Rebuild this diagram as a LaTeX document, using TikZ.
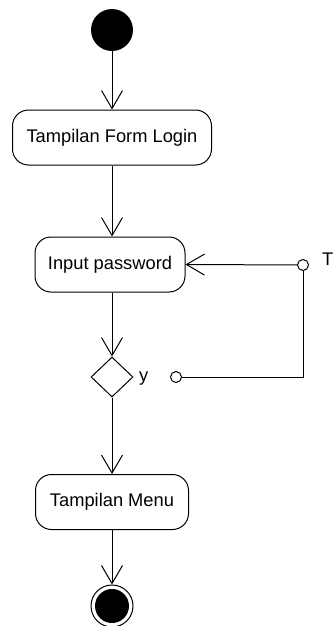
\documentclass[tikz,border=0pt]{standalone}
\usepackage{fontspec}
\setmainfont{Liberation Sans}
\usetikzlibrary{arrows.meta,shapes.geometric}

\tikzset{
  activity/.style={draw, line width=1pt, rounded corners=16pt, minimum height=55pt,
    inner sep=0pt, font=\fontsize{18.3}{22}\selectfont},
  flow/.style={line width=1pt, -{Straight Barb[length=18pt,width=21pt,line width=1pt]}},
  port/.style={draw, circle, line width=1pt, minimum size=11pt, inner sep=0pt, fill=white},
  lbl/.style={anchor=west, inner sep=0pt, font=\fontsize{18.3}{22}\selectfont}
}

\begin{document}
\begin{tikzpicture}[x=1pt,y=-1pt]
\useasboundingbox (0,0) rectangle (333,626);

% start and end states
\node[circle, fill=black, minimum size=42pt, inner sep=0pt] (start) at (112,30) {};
\node[circle, draw, line width=1pt, minimum size=42pt, inner sep=0pt] (stop) at (112,606) {};
\fill (stop.center) circle (17pt);

% activities
\node[activity, minimum width=199pt] (login) at (112,137.5) {Tampilan Form Login};
\node[activity, minimum width=150pt] (input) at (110,264.5) {Input password};
\node[diamond, draw, line width=1pt, minimum width=42pt, minimum height=40pt, inner sep=0pt] (cek) at (112,377) {};
\node[activity, minimum width=153pt] (menu) at (112,502) {Tampilan Menu};

% guards
\node[port] (yes) at (176,377) {};
\node[port] (no) at (303,265) {};
\node[lbl] (ylbl) at (139,379) {y};
\node[lbl] (tlbl) at (322,259) {T};

% flows
\draw[flow] (start) -- (login);
\draw[flow] (login.south -| cek) -- (input.north -| cek);
\draw[flow] (input.south -| cek) -- (cek);
\draw[flow] (cek) -- (menu);
\draw[flow] (menu) -- (stop);

\draw[line width=1pt] (yes) -- (yes -| no) -- (no);
\draw[flow] (no) -- (input.east);

\end{tikzpicture}
\end{document}
